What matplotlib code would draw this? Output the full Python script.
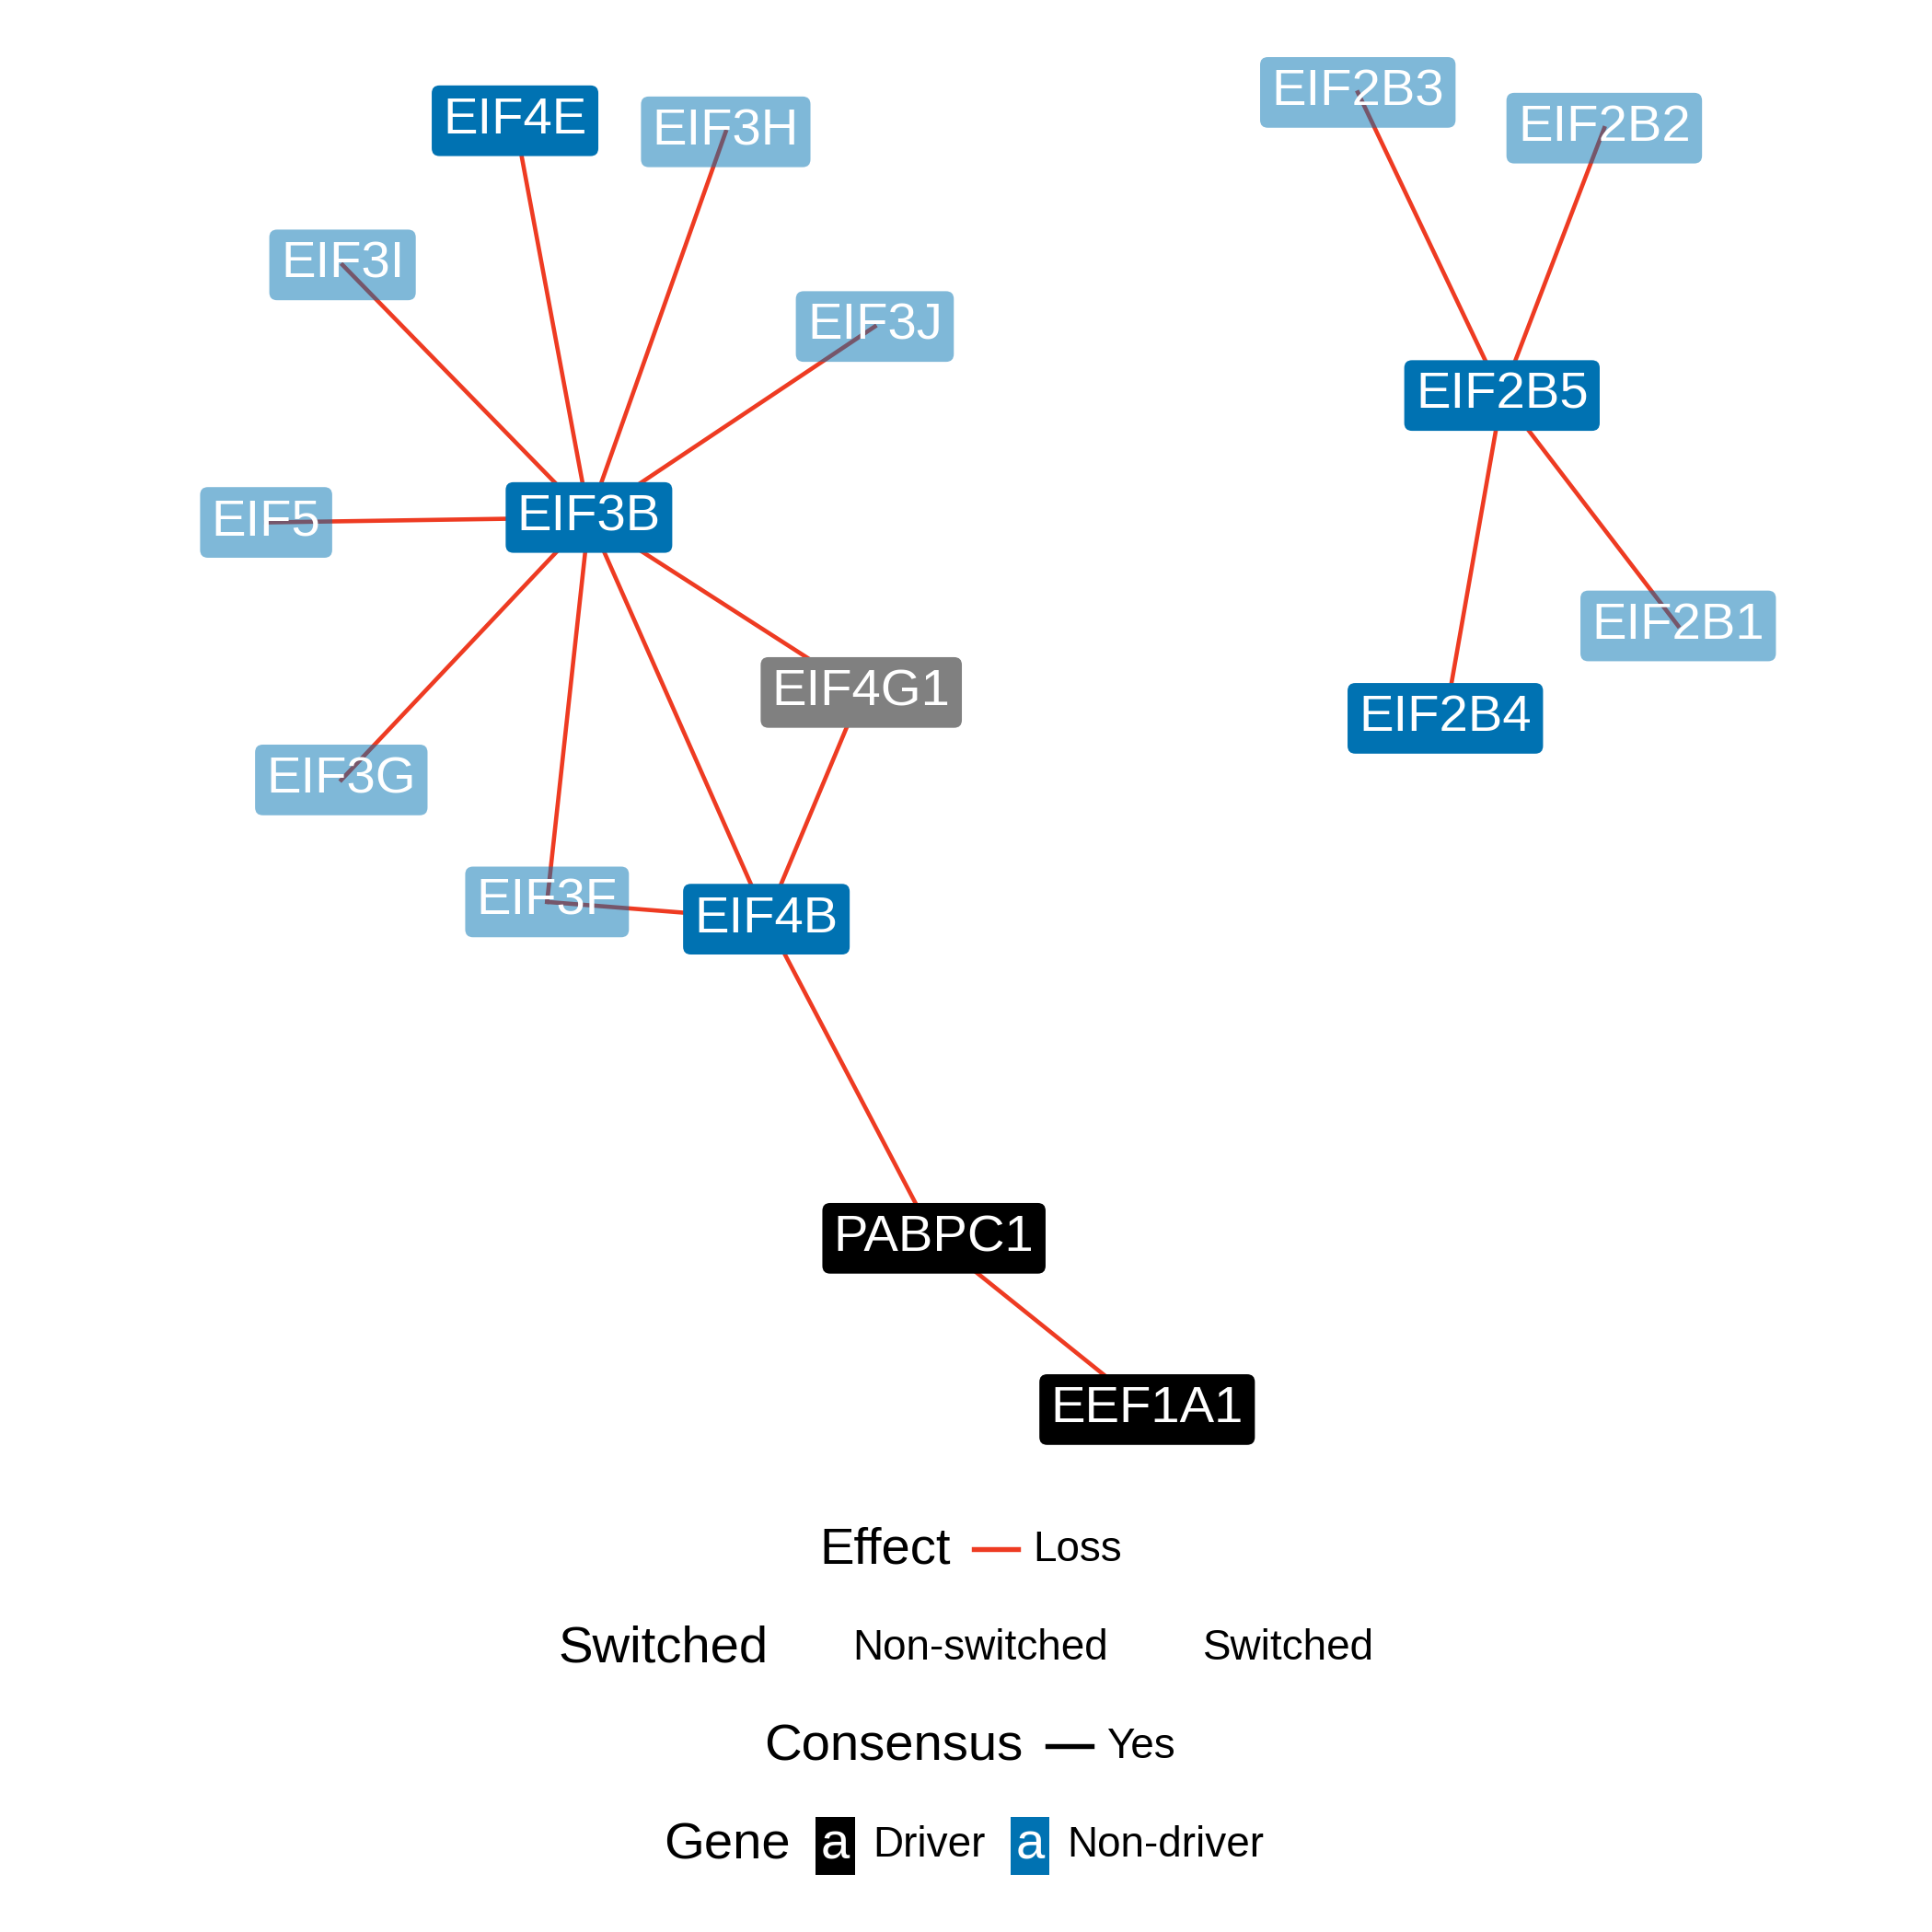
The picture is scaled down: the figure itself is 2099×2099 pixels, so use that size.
import matplotlib
matplotlib.use("Agg")
import matplotlib.pyplot as plt

plt.rcParams['font.family'] = ['Liberation Sans', 'DejaVu Sans']

genes = ["EIF4E","EIF3H","EIF3I","EIF3J","EIF5","EIF3B","EIF4G1","EIF3G","EIF3F","EIF4B",
         "PABPC1","EEF1A1","EIF2B3","EIF2B2","EIF2B5","EIF2B1","EIF2B4"]
gx = [418,589,278,710,216,478,699,277,444,622,758,931,1102,1302,1219,1362,1173]
gy = [98,107,215,265,424,420,562,633,732,746,1005,1144,75,104,321,508,583]
gtype = ["nd","light","light","light","light","nd","gray","light","light","nd",
         "driver","driver","light","light","nd","light","nd"]
edges = [("EIF3B","EIF4E"),("EIF3B","EIF3H"),("EIF3B","EIF3I"),("EIF3B","EIF3J"),
         ("EIF3B","EIF5"),("EIF3B","EIF4G1"),("EIF3B","EIF3G"),("EIF3B","EIF3F"),
         ("EIF3B","EIF4B"),("EIF4G1","EIF4B"),("EIF3F","EIF4B"),("EIF4B","PABPC1"),
         ("PABPC1","EEF1A1"),("EIF2B5","EIF2B3"),("EIF2B5","EIF2B2"),
         ("EIF2B5","EIF2B1"),("EIF2B5","EIF2B4")]

RED = "#EE3B22"; BLUE = "#0072B2"
fig = plt.figure(figsize=(2099/300, 2099/300), dpi=300)
ax = fig.add_axes([0, 0, 1, 1])
ax.set_xlim(0, 1568); ax.set_ylim(1568, 0); ax.axis('off')

pos = {g: (x, y) for g, x, y in zip(genes, gx, gy)}
for a, b in edges:
    ax.plot([pos[a][0], pos[b][0]], [pos[a][1], pos[b][1]], color=RED, lw=1.1, zorder=1)

style = {"nd": (BLUE, 1.0), "light": (BLUE, 0.5), "gray": ("#808080", 1.0), "driver": ("black", 1.0)}
for g, x, y, t in zip(genes, gx, gy, gtype):
    c, al = style[t]
    ax.text(x, y, g, ha='center', va='center', color='white', fontsize=13.5, zorder=3,
            bbox=dict(boxstyle='round,pad=0.22,rounding_size=0.15', fc=c, ec='none', alpha=al))

# legend
ax.text(718, 1258, "Effect", fontsize=13.5, ha='center', va='center')
ax.plot([790, 826], [1257, 1257], color=RED, lw=1.3)
ax.text(838, 1258, "Loss", fontsize=11, va='center')
ax.text(538, 1338, "Switched", fontsize=13.5, ha='center', va='center')
ax.text(692, 1338, "Non-switched", fontsize=11, va='center')
ax.text(976, 1338, "Switched", fontsize=11, va='center')
ax.text(725, 1418, "Consensus", fontsize=13.5, ha='center', va='center')
ax.plot([850, 886], [1417, 1417], color='black', lw=1.3)
ax.text(898, 1418, "Yes", fontsize=11, va='center')
ax.text(590, 1498, "Gene", fontsize=13.5, ha='center', va='center')
ax.text(678, 1498, "a", fontsize=13.5, ha='center', va='center', color='white',
        bbox=dict(boxstyle='square,pad=0.1', fc='black', ec='none'))
ax.text(708, 1498, "Driver", fontsize=11, va='center')
ax.text(836, 1498, "a", fontsize=13.5, ha='center', va='center', color='white',
        bbox=dict(boxstyle='square,pad=0.1', fc=BLUE, ec='none'))
ax.text(866, 1498, "Non-driver", fontsize=11, va='center')

fig.savefig("out.png", dpi=300)
